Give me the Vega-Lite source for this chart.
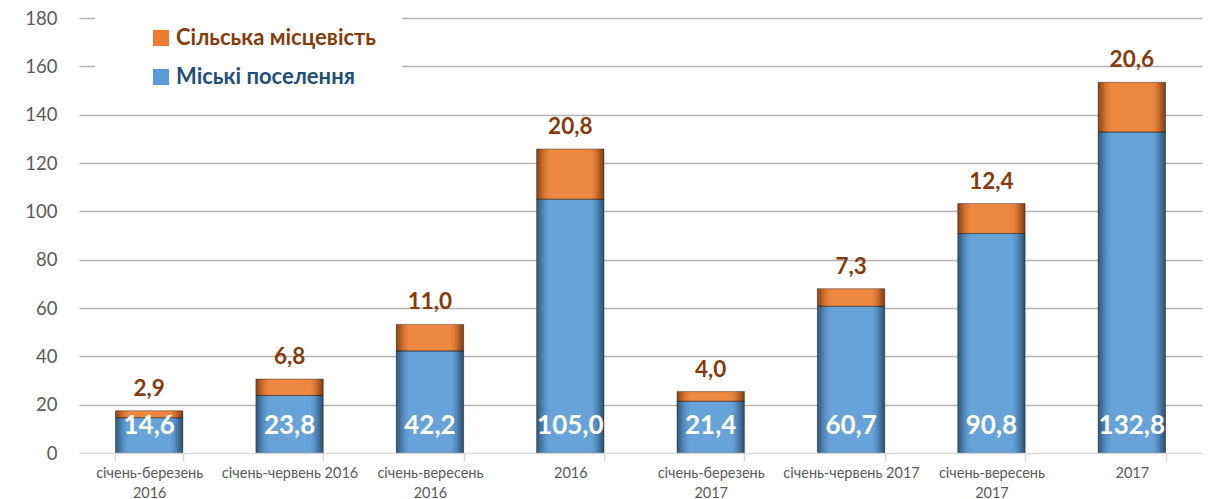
{
  "$schema": "https://vega.github.io/schema/vega-lite/v6.json",
  "width": 1123,
  "height": 435,
  "autosize": {"type": "none"},
  "padding": {"left": 79, "top": 18, "right": 15, "bottom": 46},
  "background": "white",
  "config": {
    "view": {"stroke": null},
    "font": "Lato",
    "locale": {"number": {"decimal": ",", "thousands": " ", "grouping": [3], "currency": ["", ""]}}
  },
  "data": {
    "values": [
      {"cat": "січень-березень 2016", "series": "Міські поселення", "value": 14.6},
      {"cat": "січень-березень 2016", "series": "Сільська місцевість", "value": 2.9},
      {"cat": "січень-червень 2016", "series": "Міські поселення", "value": 23.8},
      {"cat": "січень-червень 2016", "series": "Сільська місцевість", "value": 6.8},
      {"cat": "січень-вересень 2016", "series": "Міські поселення", "value": 42.2},
      {"cat": "січень-вересень 2016", "series": "Сільська місцевість", "value": 11.0},
      {"cat": "2016", "series": "Міські поселення", "value": 105.0},
      {"cat": "2016", "series": "Сільська місцевість", "value": 20.8},
      {"cat": "січень-березень 2017", "series": "Міські поселення", "value": 21.4},
      {"cat": "січень-березень 2017", "series": "Сільська місцевість", "value": 4.0},
      {"cat": "січень-червень 2017", "series": "Міські поселення", "value": 60.7},
      {"cat": "січень-червень 2017", "series": "Сільська місцевість", "value": 7.3},
      {"cat": "січень-вересень 2017", "series": "Міські поселення", "value": 90.8},
      {"cat": "січень-вересень 2017", "series": "Сільська місцевість", "value": 12.4},
      {"cat": "2017", "series": "Міські поселення", "value": 132.8},
      {"cat": "2017", "series": "Сільська місцевість", "value": 20.6}
    ]
  },
  "transform": [
    {"stack": "value", "groupby": ["cat"], "sort": [{"field": "series", "order": "ascending"}], "as": ["v0", "v1"]}
  ],
  "encoding": {
    "x": {
      "field": "cat",
      "type": "nominal",
      "sort": null,
      "title": null,
      "scale": {"paddingInner": 0.52, "paddingOuter": 0.26},
      "axis": {
        "labelAngle": 0,
        "labelFontSize": 14.5,
        "labelColor": "#595959",
        "labelFont": "Lato",
        "labelPadding": 5,
        "labelLineHeight": 20,
        "labelBaseline": "top",
        "labelExpr": "indexof(datum.label, 'червень') >= 0 || length(datum.label) < 6 ? datum.label : split(datum.label, ' ')",
        "domainColor": "#D9D9D9",
        "domainWidth": 1.5,
        "tickColor": "#D9D9D9",
        "tickWidth": 1.5,
        "tickSize": 8,
        "tickBand": "extent",
        "grid": false,
        "zindex": 1
      }
    }
  },
  "layer": [
    {
      "mark": {"type": "bar"},
      "encoding": {
        "y": {
          "field": "v0",
          "type": "quantitative",
          "title": null,
          "scale": {"domain": [0, 180]},
          "axis": {
            "values": [0, 20, 40, 60, 80, 100, 120, 140, 160, 180],
            "labelFontSize": 18.5,
            "labelColor": "#595959",
            "labelFont": "Lato",
            "labelPadding": 22,
            "domain": false,
            "ticks": false,
            "gridColor": {"condition": {"test": "datum.value == 0", "value": "transparent"}, "value": "#B3B3B3"},
            "gridWidth": 1.5
          }
        },
        "y2": {"field": "v1"},
        "color": {
          "field": "series",
          "type": "nominal",
          "scale": {"domain": ["Сільська місцевість", "Міські поселення"], "range": ["#ED7D31", "#5B9BD5"]},
          "legend": {
            "title": null,
            "orient": "none",
            "legendX": 16,
            "legendY": -16,
            "padding": 25,
            "symbolOffset": 30,
            "fillColor": "white",
            "symbolType": "square",
            "symbolSize": 260,
            "symbolStrokeWidth": 0,
            "labelFontSize": 22,
            "labelFont": "Lato",
            "labelFontWeight": "bold",
            "labelOffset": 4,
            "labelLimit": 500,
            "rowPadding": 17,
            "encode": {
              "labels": {"update": {"fill": {"signal": "datum.value == 'Сільська місцевість' ? '#843C0C' : '#1F4E79'"}}}
            }
          }
        }
      }
    },
    {
      "mark": {
        "type": "bar",
        "stroke": "rgba(0,0,0,0.35)",
        "strokeWidth": 1,
        "fill": {
          "gradient": "linear",
          "x1": 0, "x2": 1, "y1": 0, "y2": 0,
          "stops": [
            {"offset": 0, "color": "rgba(0,0,0,0.45)"},
            {"offset": 0.1, "color": "rgba(0,0,0,0.12)"},
            {"offset": 0.2, "color": "rgba(255,255,255,0.08)"},
            {"offset": 0.8, "color": "rgba(255,255,255,0.08)"},
            {"offset": 0.9, "color": "rgba(0,0,0,0.15)"},
            {"offset": 1, "color": "rgba(0,0,0,0.5)"}
          ]
        }
      },
      "encoding": {
        "y": {"field": "v0", "type": "quantitative"},
        "y2": {"field": "v1"}
      }
    },
    {
      "transform": [{"filter": "datum.series == 'Сільська місцевість'"}],
      "mark": {"type": "text", "fontSize": 22.5, "fontWeight": "bold", "color": "#843C0C", "baseline": "middle", "dy": -22},
      "encoding": {
        "y": {"field": "v1", "type": "quantitative"},
        "text": {"field": "value", "type": "quantitative", "format": ".1f"}
      }
    },
    {
      "transform": [{"filter": "datum.series == 'Міські поселення'"}],
      "mark": {"type": "text", "fontSize": 26, "fontWeight": "bold", "color": "white", "baseline": "middle", "dy": -27},
      "encoding": {
        "y": {"datum": 0, "type": "quantitative"},
        "text": {"field": "value", "type": "quantitative", "format": ".1f"}
      }
    }
  ]
}
